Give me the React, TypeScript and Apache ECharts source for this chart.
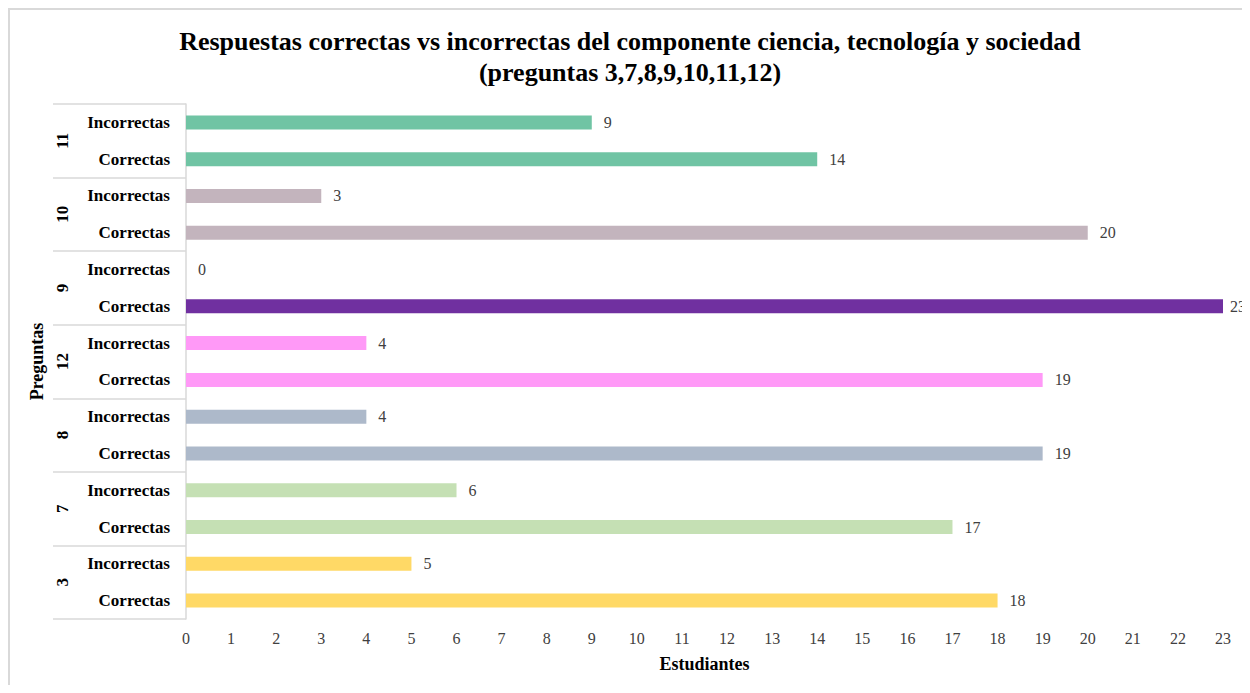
import React, { useEffect, useRef } from "react";
import * as echarts from "echarts";

// Question groups, listed bottom to top as they stack on the category axis
const preguntas = ["3", "7", "8", "12", "9", "10", "11"];
const respuestas = ["Correctas", "Incorrectas"];
const correctas = [18, 17, 19, 19, 23, 20, 14];
const incorrectas = [5, 6, 4, 4, 0, 3, 9];
const coloresGrupo = ["#ffd966", "#c5e0b4", "#adb9ca", "#ff99f7", "#7030a0", "#c3b4bd", "#70c4a4"];
const xTicks = { min: 0, max: 23, interval: 1 };

const titulo = "Respuestas correctas vs incorrectas del componente ciencia, tecnología y sociedad\n(preguntas 3,7,8,9,10,11,12)";

const SERIF = "'Liberation Serif', 'Times New Roman', serif";

const W = 1262;
const H = 677;

export default function App() {
  const ref = useRef<HTMLDivElement>(null);

  useEffect(() => {
    if (!ref.current) return;
    document.documentElement.style.overflow = "hidden";
    document.body.style.overflow = "hidden";
    const chart = echarts.init(ref.current, undefined, { renderer: "svg" });

    // Bar that reaches the end of the axis gets its label pulled in a little
    const punto = (v: number, color: string) => ({
      value: v,
      itemStyle: { color },
      label: v >= xTicks.max ? { distance: 7 } : undefined,
    });

    const categorias: string[] = [];
    const datos: any[] = [];
    preguntas.forEach((_, i) => {
      categorias.push(respuestas[0]);
      datos.push(punto(correctas[i], coloresGrupo[i]));
      categorias.push(respuestas[1]);
      datos.push(punto(incorrectas[i], coloresGrupo[i]));
    });

    chart.setOption({
      animation: false,
      backgroundColor: "#ffffff",
      title: {
        text: titulo,
        left: 617,
        top: 13,
        textAlign: "center",
        textStyle: {
          fontFamily: SERIF,
          fontWeight: "bold",
          fontSize: 26,
          lineHeight: 31,
          color: "#000000",
        },
      },
      graphic: [
        { type: "line", shape: { x1: 0, y1: 1, x2: W, y2: 1 }, style: { stroke: "#d9d9d9", lineWidth: 2 } },
        { type: "line", shape: { x1: 1, y1: 0, x2: 1, y2: H + 20 }, style: { stroke: "#d9d9d9", lineWidth: 2 } },
      ],
      grid: { left: 178, right: W - 1215, top: 96, bottom: H - 611, containLabel: false },
      xAxis: {
        type: "value",
        min: xTicks.min,
        max: xTicks.max,
        interval: xTicks.interval,
        name: "Estudiantes",
        nameLocation: "middle",
        nameGap: 36,
        nameTextStyle: { fontFamily: SERIF, fontWeight: "bold", fontSize: 18, color: "#000000" },
        axisLine: { show: false },
        axisTick: { show: false },
        splitLine: { show: false },
        axisLabel: { fontFamily: SERIF, fontSize: 16, color: "#404040", margin: 11 },
      },
      yAxis: [
        {
          type: "category",
          data: categorias,
          position: "left",
          axisLine: { show: true, lineStyle: { color: "#d9d9d9", width: 1.5 } },
          axisTick: { show: false },
          axisLabel: { fontFamily: SERIF, fontWeight: "bold", fontSize: 17, color: "#000000", margin: 16 },
        },
        {
          type: "category",
          data: preguntas,
          position: "left",
          offset: 133,
          axisLine: { show: false },
          axisTick: { show: true, inside: true, length: 133, lineStyle: { color: "#d9d9d9", width: 1.5 } },
          axisLabel: { show: false },
        },
        {
          type: "category",
          data: preguntas,
          position: "left",
          offset: 115,
          name: "Preguntas",
          nameLocation: "middle",
          nameRotate: 90,
          nameGap: 20,
          nameTextStyle: { fontFamily: SERIF, fontWeight: "bold", fontSize: 18, color: "#000000" },
          axisLine: { show: false },
          axisTick: { show: false },
          axisLabel: { rotate: 90, margin: 0, fontFamily: SERIF, fontWeight: "bold", fontSize: 17, color: "#000000" },
        },
      ],
      series: [
        {
          type: "bar",
          yAxisIndex: 0,
          barWidth: 14,
          data: datos,
          label: {
            show: true,
            position: "right",
            distance: 12,
            fontFamily: SERIF,
            fontSize: 16,
            color: "#404040",
          },
        },
      ],
    });

    return () => chart.dispose();
  }, []);

  return <div ref={ref} style={{ width: W, height: H }} />;
}
